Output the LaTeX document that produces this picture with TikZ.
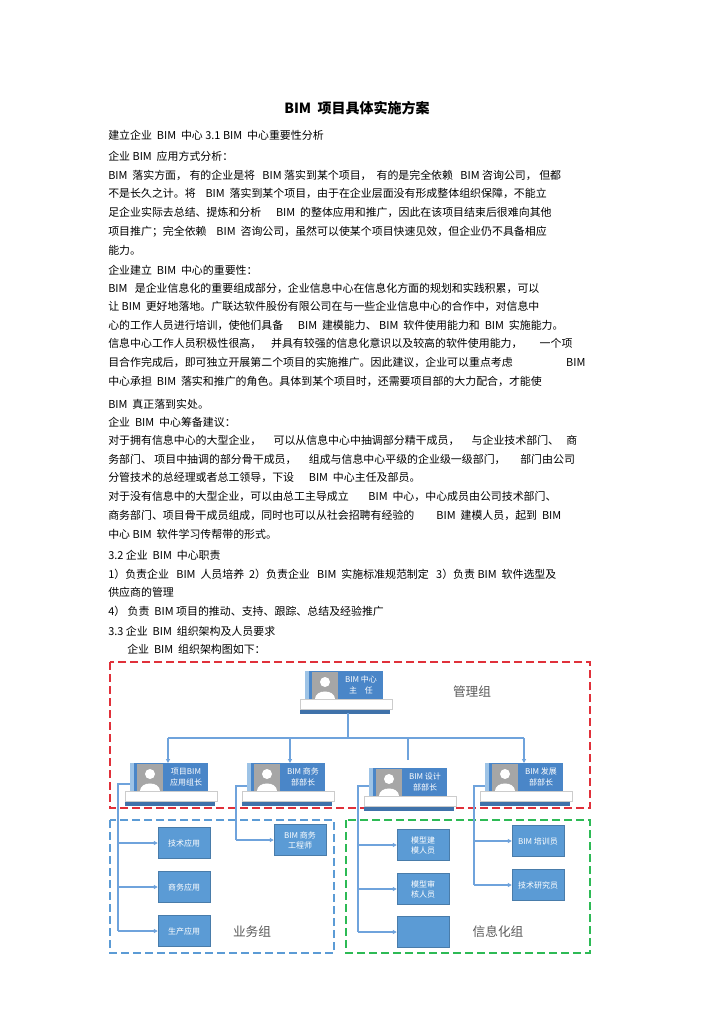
\documentclass[tikz,border=0pt]{standalone}
\usepackage{fontspec}
\setmainfont{Noto Sans CJK SC}
\usetikzlibrary{arrows.meta}
\definecolor{bx}{HTML}{5B9BD5}
\definecolor{cd}{HTML}{4A86C8}
\definecolor{ln}{HTML}{6FA3DC}
\definecolor{rd}{HTML}{E0303A}
\definecolor{gr}{HTML}{2DBA55}
\tikzset{
 txt/.style={anchor=base west,inner sep=0pt,font=\fontsize{8.2pt}{9pt}\selectfont},
 sbox/.style={fill=bx,draw=bx!80!black,line width=0.3pt,minimum width=39pt,minimum height=23pt,inner sep=0pt,text=white,align=center,font=\fontsize{6pt}{7.5pt}\selectfont},
 conn/.style={draw=ln,line width=0.8pt},
 arr/.style={conn,-{Triangle[length=3pt,width=3pt]}},
 grp/.style={line width=1.2pt,dash pattern=on 6pt off 3pt},
 glab/.style={text=black!65,font=\fontsize{9.5pt}{10pt}\selectfont}
}
\newcommand\cardx[4]{% name, x, y, text
 \fill[cd!85!black] (#2-5,#3+28) rectangle (#2+85,#3+43);
 \node[fill=cd,minimum width=58.5pt,minimum height=21pt,inner sep=0pt,anchor=north west] (#1) at (#2,#3) {};
 \fill[bx!60!white] (#2,#3) rectangle (#2+4,#3+28);
 \fill[black!35] (#2+7,#3+1) rectangle (#2+33,#3+28);
 \fill[white] (#2+20,#3+11) circle (5);
 \fill[white] (#2+10,#3+28) .. controls (#2+10,#3+18) and (#2+30,#3+18) .. (#2+30,#3+28) -- cycle;
 \fill[white,draw=black!20] (#2-5,#3+28) rectangle (#2+87,#3+38);
 \node[text=white,align=center,font=\fontsize{6pt}{8pt}\selectfont] at (#2+56,#3+14) {#4};
}
\begin{document}
\begin{tikzpicture}[x=0.75pt,y=-0.75pt]
\useasboundingbox (0,0) rectangle (724,1024);
\fill[white] (0,0) rectangle (724,1024);
\node[font=\fontsize{10.5pt}{12pt}\selectfont\bfseries] (title) at (357,108) {BIM\ \ 项目具体实施方案};
\newcommand\tl[3]{\node[txt] (#1) at (108,#2) {#3};}
\tl{l1}{139}{建立企业\ \ BIM\ \ 中心\ 3.1 BIM\ \ 中心重要性分析}
\tl{l2}{160}{企业\ BIM\ \ 应用方式分析：}
\tl{l3}{179}{BIM\ \ 落实方面，\ 有的企业是将\ \ \ BIM\ 落实到某个项目，\ \ 有的是完全依赖\ \ \ BIM\ 咨询公司，\ 但都}
\tl{l4}{197}{不是长久之计。将\ \ \ \ BIM\ \ 落实到某个项目，由于在企业层面没有形成整体组织保障，不能立}
\tl{l5}{216}{足企业实际去总结、提炼和分析\ \ \ \ \ \ BIM\ \ 的整体应用和推广，因此在该项目结束后很难向其他}
\tl{l6}{235}{项目推广；完全依赖\ \ \ \ BIM\ \ 咨询公司，虽然可以使某个项目快速见效，但企业仍不具备相应}
\tl{l7}{254}{能力。}
\tl{l8}{274}{企业建立\ \ BIM\ \ 中心的重要性：}
\tl{l9}{292}{BIM\ \ \ 是企业信息化的重要组成部分，企业信息中心在信息化方面的规划和实践积累，可以}
\tl{l10}{310}{让\ BIM\ \ 更好地落地。广联达软件股份有限公司在与一些企业信息中心的合作中，对信息中}
\tl{l11}{329}{心的工作人员进行培训，使他们具备\ \ \ \ \ \ BIM\ \ 建模能力、\ BIM\ \ 软件使用能力和\ \ BIM\ \ 实施能力。}
\tl{l12}{347}{信息中心工作人员积极性很高，\ \ \ \ 并具有较强的信息化意识以及较高的软件使用能力，\ \ \ \ \ \ \ 一个项}
\tl{l13}{366}{目合作完成后，即可独立开展第二个项目的实施推广。因此建议，企业可以重点考虑\hspace{40pt}BIM}
\tl{l14}{385}{中心承担\ \ BIM\ \ 落实和推广的角色。具体到某个项目时，还需要项目部的大力配合，才能使}
\tl{l15}{408}{BIM\ \ 真正落到实处。}
\tl{l16}{426}{企业\ \ BIM\ \ 中心筹备建议：}
\tl{l17}{444}{对于拥有信息中心的大型企业，\ \ \ \ \ 可以从信息中心中抽调部分精干成员，\ \ \ \ \ 与企业技术部门、\ \ \ 商}
\tl{l18}{463}{务部门、\ 项目中抽调的部分骨干成员，\ \ \ \ \ 组成与信息中心平级的企业级一级部门，\ \ \ \ \ \ 部门由公司}
\tl{l19}{481}{分管技术的总经理或者总工领导，下设\ \ \ \ \ \ BIM\ \ 中心主任及部员。}
\tl{l20}{500}{对于没有信息中的大型企业，可以由总工主导成立\ \ \ \ \ \ \ \ BIM\ \ 中心，中心成员由公司技术部门、}
\tl{l21}{519}{商务部门、项目骨干成员组成，同时也可以从社会招聘有经验的\ \ \ \ \ \ \ \ \ BIM\ \ 建模人员，起到\ \ BIM}
\tl{l22}{538}{中心\ BIM\ \ 软件学习传帮带的形式。}
\tl{l23}{559}{3.2 企业\ \ BIM\ \ 中心职责}
\tl{l24}{578}{1）负责企业\ \ \ BIM\ \ 人员培养\ \ 2）负责企业\ \ \ BIM\ \ 实施标准规范制定\ \ \ 3）负责\ BIM\ \ 软件选型及}
\tl{l25}{596}{供应商的管理}
\tl{l26}{615}{4）\ 负责\ \ BIM\ 项目的推动、支持、跟踪、总结及经验推广}
\tl{l27}{635}{3.3 企业\ \ BIM\ \ 组织架构及人员要求}
\node[txt] (l28) at (127,653) {企业\ \ BIM\ \ 组织架构图如下：};
% groups
\draw[grp,rd] (110,662) rectangle (590,808);
\draw[grp,bx] (110,820) rectangle (334,953);
\draw[grp,gr] (346,820) rectangle (590,953);
\node[glab] (g1) at (472,692) {管理组};
\node[glab] (g2) at (252,932) {业务组};
\node[glab] (g3) at (498,932) {信息化组};
% cards
\cardx{top}{305}{671}{BIM 中心\\主\quad 任}
\cardx{c1}{130}{763}{项目BIM\\应用组长}
\cardx{c2}{247}{763}{BIM 商务\\部部长}
\cardx{c3}{369}{768}{BIM 设计\\部部长}
\cardx{c4}{485}{763}{BIM 发展\\部部长}
\coordinate (hub) at (348,738);
\draw[conn] (348,713) -- (hub);
\draw[conn] (168,738) -- (524,738);
\foreach \xx/\yy in {168/763,290/763,524/763}{\draw[arr] (\xx,738) -- (\xx,\yy);}
\draw[conn] (408,738) -- (408,760);
% small boxes
\node[sbox] (b1) at (184,843) {技术应用};
\node[sbox] (b2) at (184,887) {商务应用};
\node[sbox] (b3) at (184,931) {生产应用};
\node[sbox] (b4) at (300,840) {BIM 商务\\工程师};
\node[sbox] (b5) at (423,845) {模型建\\模人员};
\node[sbox] (b6) at (423,889) {模型审\\核人员};
\node[sbox] (b7) at (423,932) {};
\node[sbox] (b8) at (538,841) {BIM 培训员};
\node[sbox] (b9) at (538,885) {技术研究员};
\coordinate (v1) at (118,784);
\coordinate (v2) at (236,786);
\coordinate (v3) at (358,786);
\coordinate (v4) at (474,786);
% branch lines
\draw[conn] (130,784) -- (v1) -- (v1 |- b3.west);
\foreach \b in {b1,b2,b3}{\draw[arr] (v1 |- \b.west) -- (\b.west);}
\draw[conn] (247,786) -- (v2) -- (v2 |- b4.west);
\draw[arr] (v2 |- b4.west) -- (b4.west);
\draw[conn] (369,786) -- (v3) -- (v3 |- b7.west);
\foreach \b in {b5,b6,b7}{\draw[arr] (v3 |- \b.west) -- (\b.west);}
\draw[conn] (485,786) -- (v4) -- (v4 |- b9.west);
\foreach \b in {b8,b9}{\draw[arr] (v4 |- \b.west) -- (\b.west);}
\end{tikzpicture}
\end{document}
